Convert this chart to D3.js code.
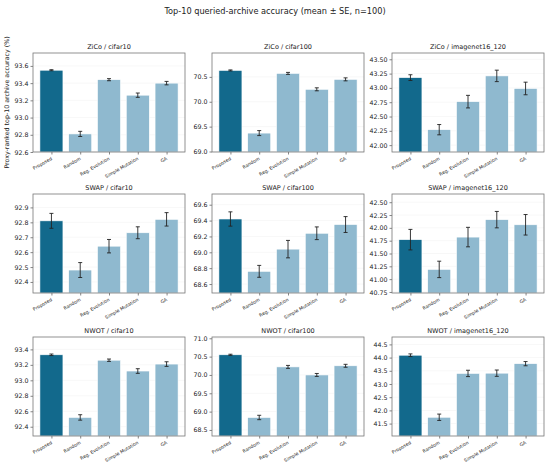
<!DOCTYPE html>
<html>
<head>
<meta charset="utf-8">
<script src="https://cdn.jsdelivr.net/npm/d3@7"></script>
<style>
  body { margin: 0; background: #fff; }
  svg text { font-family: "DejaVu Sans", sans-serif; fill: #222; }
</style>
</head>
<body>
<script>
// data
const methods = ["Proposed", "Random", "Reg. Evolution", "Simple Mutation", "GA"];
const proxies = ["ZiCo", "SWAP", "NWOT"];
const datasets = ["cifar10", "cifar100", "imagenet16_120"];

// means, row = proxy, col = dataset
const means = [
  [[93.55, 92.81, 93.44, 93.26, 93.40], [70.63, 69.37, 70.57, 70.25, 70.45], [43.18, 42.27, 42.76, 43.21, 42.99]],
  [[92.81, 92.48, 92.64, 92.73, 92.82], [69.42, 68.76, 69.04, 69.24, 69.35], [41.77, 41.19, 41.82, 42.16, 42.06]],
  [[93.33, 92.52, 93.26, 93.12, 93.21], [70.55, 68.84, 70.22, 70.00, 70.25], [44.09, 41.74, 43.40, 43.41, 43.77]]
];
const errs = [
  [[0.006, 0.03, 0.012, 0.025, 0.02], [0.01, 0.05, 0.02, 0.03, 0.03], [0.05, 0.09, 0.11, 0.10, 0.11]],
  [[0.05, 0.05, 0.045, 0.04, 0.045], [0.09, 0.075, 0.11, 0.08, 0.10], [0.20, 0.16, 0.19, 0.16, 0.20]],
  [[0.01, 0.035, 0.015, 0.03, 0.03], [0.015, 0.06, 0.04, 0.04, 0.04], [0.05, 0.12, 0.12, 0.12, 0.08]]
];
const yLims = [
  [[92.6, 93.75], [68.99, 70.98], [41.88, 43.61]],
  [[92.326, 92.99], [68.487, 69.735], [40.73, 42.66]],
  [[92.28, 93.56], [68.335, 71.035], [41.03, 44.78]]
];
const yTicks = [
  [["92.6", "92.8", "93.0", "93.2", "93.4", "93.6"], ["69.0", "69.5", "70.0", "70.5"], ["42.00", "42.25", "42.50", "42.75", "43.00", "43.25", "43.50"]],
  [["92.4", "92.5", "92.6", "92.7", "92.8", "92.9"], ["68.6", "68.8", "69.0", "69.2", "69.4", "69.6"], ["40.75", "41.00", "41.25", "41.50", "41.75", "42.00", "42.25", "42.50"]],
  [["92.4", "92.6", "92.8", "93.0", "93.2", "93.4"], ["68.5", "69.0", "69.5", "70.0", "70.5", "71.0"], ["41.5", "42.0", "42.5", "43.0", "43.5", "44.0", "44.5"]]
];

const W = 550, H = 468;
const colLeft = [33, 212, 392];
const rowTop = [53, 194, 337];
const pw = 152, ph = 99;
const dark = "#12698c", light = "#8fb9cf";

const svg = d3.select("body").append("svg")
  .attr("width", W).attr("height", H);

svg.append("text")
  .attr("x", W / 2).attr("y", 14)
  .attr("text-anchor", "middle")
  .style("font-size", "8.2px")
  .text("Top-10 queried-archive accuracy (mean \u00b1 SE, n=100)");

svg.append("text")
  .attr("transform", `translate(9,${rowTop[0] + ph / 2}) rotate(-90)`)
  .attr("text-anchor", "middle")
  .style("font-size", "6.3px")
  .text("Proxy-ranked top-10 archive accuracy (%)");

proxies.forEach((proxy, r) => {
  datasets.forEach((ds, c) => {
    const g = svg.append("g")
      .attr("transform", `translate(${colLeft[c]},${rowTop[r]})`);

    const x = d3.scaleLinear().domain([-0.64, 4.64]).range([0, pw]);
    const y = d3.scaleLinear().domain(yLims[r][c]).range([ph, 0]);
    const ticks = yTicks[r][c].map(Number);
    const dec = yTicks[r][c][0].split(".")[1].length;

    // grid
    g.selectAll(".grid").data(ticks).enter().append("line")
      .attr("x1", 0).attr("x2", pw)
      .attr("y1", d => y(d)).attr("y2", d => y(d))
      .attr("stroke", "#000").attr("stroke-opacity", 0.06)
      .attr("stroke-width", 0.6);

    const rows = methods.map((m, i) => ({ m, i, v: means[r][c][i], e: errs[r][c][i] }));

    g.selectAll("rect.bar").data(rows).enter().append("rect")
      .attr("class", "bar")
      .attr("x", d => x(d.i - 0.4))
      .attr("width", x(0.4) - x(-0.4))
      .attr("y", d => y(d.v))
      .attr("height", d => ph - y(d.v))
      .attr("fill", d => d.i === 0 ? dark : light)
      .attr("stroke", "#fff").attr("stroke-width", 0.6);

    // error bars
    const eb = g.selectAll("g.eb").data(rows).enter().append("g")
      .attr("stroke", "#222").attr("stroke-width", 0.9);
    eb.append("line")
      .attr("x1", d => x(d.i)).attr("x2", d => x(d.i))
      .attr("y1", d => y(d.v - d.e)).attr("y2", d => y(d.v + d.e));
    eb.append("line")
      .attr("x1", d => x(d.i) - 2).attr("x2", d => x(d.i) + 2)
      .attr("y1", d => y(d.v - d.e)).attr("y2", d => y(d.v - d.e));
    eb.append("line")
      .attr("x1", d => x(d.i) - 2).attr("x2", d => x(d.i) + 2)
      .attr("y1", d => y(d.v + d.e)).attr("y2", d => y(d.v + d.e));

    // y axis
    const ya = g.append("g")
      .call(d3.axisLeft(y).tickValues(ticks).tickSize(2.5).tickPadding(2)
        .tickFormat(d3.format(`.${dec}f`)));
    ya.select(".domain").remove();
    ya.selectAll("line").attr("stroke", "#333").attr("stroke-width", 0.6);
    ya.selectAll("text").style("font-size", "6.3px").attr("fill", "#222");

    // x axis
    const xa = g.append("g").attr("transform", `translate(0,${ph})`)
      .call(d3.axisBottom(x).tickValues(d3.range(methods.length)).tickSize(2.5)
        .tickFormat(i => methods[i]));
    xa.select(".domain").remove();
    xa.selectAll("line").attr("stroke", "#333").attr("stroke-width", 0.6);
    xa.selectAll("text")
      .style("font-size", "4.6px").attr("fill", "#222")
      .attr("text-anchor", "end")
      .attr("dy", null).attr("y", 0)
      .attr("transform", "translate(0.5,7.5) rotate(-30)");

    // frame
    g.append("rect")
      .attr("width", pw).attr("height", ph)
      .attr("fill", "none").attr("stroke", "#777").attr("stroke-width", 0.8);

    g.append("text")
      .attr("x", pw / 2).attr("y", -4)
      .attr("text-anchor", "middle")
      .style("font-size", "6.5px")
      .text(`${proxy} / ${ds}`);
  });
});
</script>
</body>
</html>
